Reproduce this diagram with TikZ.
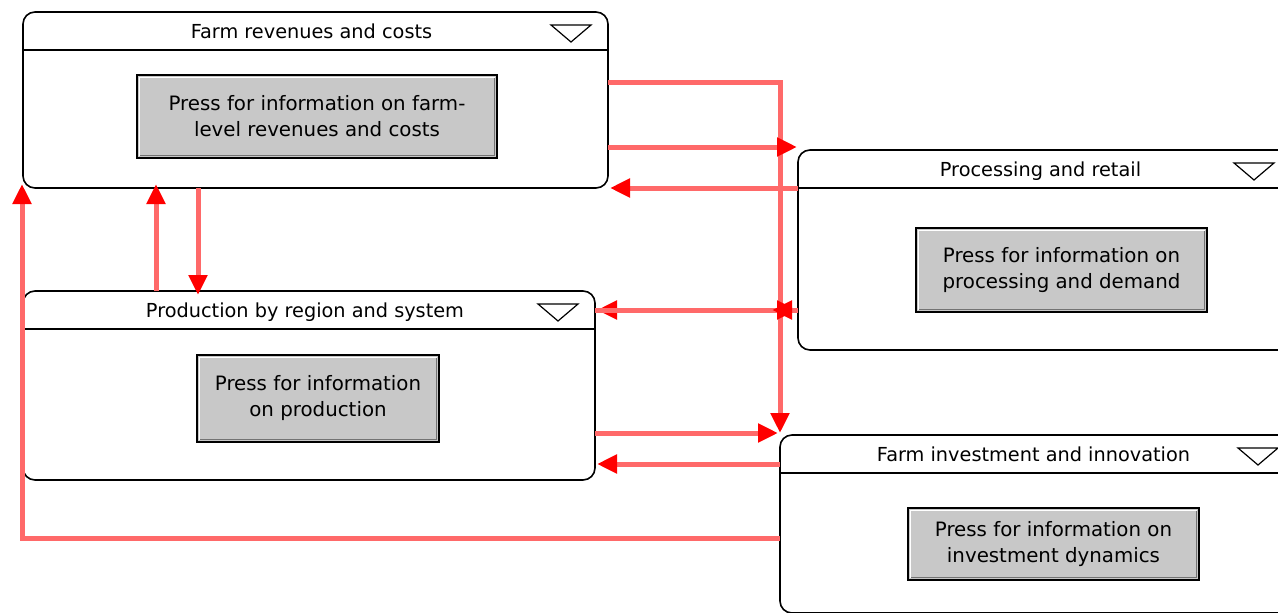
\documentclass[tikz,border=0pt]{standalone}
\usepackage{fontspec}
\setmainfont{DejaVu Sans}
\usetikzlibrary{arrows.meta}
\definecolor{btngray}{RGB}{200,200,200}
\definecolor{linkred}{RGB}{255,105,105}
\tikzset{
  panel/.style={draw=black, line width=1.6pt, rounded corners=12pt, fill=white,
    inner sep=0pt, outer sep=0pt, rectangle},
  paneltitle/.style={font=\fontsize{19.3}{22}\selectfont, anchor=base, inner sep=0pt},
  button/.style={draw=black, line width=1.6pt, fill=btngray, inner sep=0pt, outer sep=0pt,
    rectangle, font=\fontsize{19.8}{26}\selectfont, align=center},
  menutri/.style={draw=black, line width=1.2pt, fill=white},
  link/.style={draw=linkred, line width=5pt,
    -{Triangle[length=20pt,width=18pt,color=red]}},
}
% bevel of a push button: light top/left edge, dark bottom/right edge
\newcommand{\bevel}[1]{%
  \draw[white, line width=1.4pt] ([xshift=2.5pt,yshift=2.5pt]#1.south west) |- ([xshift=-2.5pt,yshift=-2.5pt]#1.north east);
  \draw[black!55, line width=1.4pt] ([xshift=-2.5pt,yshift=-2.5pt]#1.north east) |- ([xshift=2.5pt,yshift=2.5pt]#1.south west);
}
% title bar of a panel: separator, title and menu triangle
\newcommand{\titlebar}[2]{%
  \draw[line width=1.5pt] ([yshift=-38pt]#1.north west) -- ([yshift=-38pt]#1.north east);
  \node[paneltitle] (#1title) at ([xshift=-4pt,yshift=-26pt]#1.north) {#2};
  \draw[menutri] ([xshift=-57pt,yshift=-13pt]#1.north east) -- ++(40,0) -- ++(-20,17) -- cycle;
}
\begin{document}
\begin{tikzpicture}[x=1pt,y=-1pt]
\clip (0,0) rectangle (1278,613);
\fill[white] (0,0) rectangle (1278,613);

% panels
\node[panel, minimum width=585pt, minimum height=176pt] (A) at (315.5,100) {};
\node[panel, minimum width=493pt, minimum height=200pt] (B) at (1044.5,250) {};
\node[panel, minimum width=572pt, minimum height=189pt] (C) at (309,385.5) {};
\node[panel, minimum width=515pt, minimum height=178pt] (D) at (1037.5,524) {};

\titlebar{A}{Farm revenues and costs}
\titlebar{B}{Processing and retail}
\titlebar{C}{Production by region and system}
\titlebar{D}{Farm investment and innovation}

% push buttons
\node[button, minimum width=360pt, minimum height=83pt] (Abtn) at (317,116.5)
  {Press for information on farm-\\level revenues and costs};
\node[button, minimum width=291pt, minimum height=84pt] (Bbtn) at (1061.5,270)
  {Press for information on\\processing and demand};
\node[button, minimum width=242pt, minimum height=87pt] (Cbtn) at (318,398.5)
  {Press for information\\on production};
\node[button, minimum width=291pt, minimum height=72pt] (Dbtn) at (1053.5,544)
  {Press for information on\\investment dynamics};
\bevel{Abtn}\bevel{Bbtn}\bevel{Cbtn}\bevel{Dbtn}

% links between panels
\coordinate (Bstub) at ([xshift=-26pt,yshift=-160pt]B.north west);
\draw[link] ([yshift=-70pt]A.north east) -| ([yshift=2pt]D.north west);
\draw[link] ([yshift=-135pt]A.north east) -- ([xshift=-1pt,yshift=3pt]B.north west);
\draw[link] ([yshift=-38pt]B.north west) -- ([xshift=2pt]A.south east);
\draw[link] ([yshift=-160pt]B.north west) -- ([xshift=2pt,yshift=-19pt]C.north east);
\draw[link] ([yshift=-19pt]C.north east) -- ([xshift=-1pt,yshift=-160pt]B.north west);
\draw[link] ([yshift=-160pt]B.north west) -- (Bstub);
\draw[link] ([yshift=-142pt]C.north east) -- ([xshift=-2pt,yshift=2pt]D.north west);
\draw[link] ([yshift=-29pt]D.north west) -- ([xshift=2pt,yshift=-173pt]C.north east);
\draw[link] ([yshift=-103pt]D.north west) -| ([xshift=-1pt,yshift=4pt]A.south west);
\draw[link] ([xshift=133pt]C.north west) -- ([xshift=133pt,yshift=4pt]A.south west);
\draw[link] ([xshift=175pt]A.south west) -- ([xshift=175pt,yshift=-4pt]C.north west);
\end{tikzpicture}
\end{document}
